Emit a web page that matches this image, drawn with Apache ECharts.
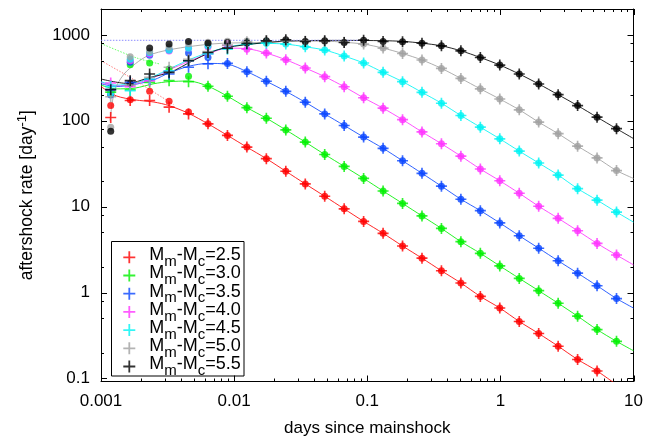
<!DOCTYPE html>
<html>
<head>
<meta charset="utf-8">
<script src="https://cdn.jsdelivr.net/npm/echarts@6/dist/echarts.min.js"></script>
<style>
html,body{margin:0;padding:0;background:#fff;}
#chart{width:647px;height:437px;}
</style>
</head>
<body>
<div id="chart"></div>
<script>
// Bin centres of the time histogram (days since mainshock)
const days = [0.001183, 0.001657, 0.002319, 0.003247, 0.004545, 0.006364, 0.008909, 0.01247, 0.01746,
  0.02445, 0.03423, 0.04792, 0.06708, 0.09392, 0.1315, 0.1841, 0.2577, 0.3608, 0.5051, 0.7071,
  0.9899, 1.386, 1.940, 2.716, 3.803, 5.324, 7.454];

// Magnitude ranges above completeness
const magDiffs = ['2.5', '3.0', '3.5', '4.0', '4.5', '5.0', '5.5'];

// Observed rates (filled circles), per day
const dots25 = [150, 175, 220, 169, 126, 92, 67.5, 49.3, 36.2, 25.8, 18.4, 13.2, 9.42, 6.73, 4.89, 3.48, 2.51, 1.79, 1.29, 0.90, 0.66, 0.46, 0.333, 0.237, 0.166, 0.122, null];
const dots30 = [205, 449, 470, 400, 329, 252, 193, 142, 107, 78.2, 56.4, 40.5, 29.4, 21.3, 15.2, 10.9, 7.79, 5.57, 3.91, 2.86, 2.04, 1.46, 1.05, 0.75, 0.53, 0.37, 0.27];
const dots35 = [200, 480, 580, 665, 613, 545, 465, 373, 288, 220, 164, 120, 88.1, 64.5, 47.7, 34.2, 24.4, 17.3, 12.2, 8.98, 6.46, 4.58, 3.28, 2.34, 1.68, 1.20, 0.85];
const dots40 = [215, 500, 600, 650, 700, 720, 751, 682, 613, 513, 411, 326, 249, 185, 140, 103, 74.1, 54.0, 38.7, 27.4, 20.0, 14.3, 10.1, 7.31, 5.24, 3.73, 2.73];
const dots45 = [210, 520, 620, 660, 700, 740, 780, 800, 800, 780, 726, 665, 566, 470, 366, 285, 214, 160, 115, 84.1, 61.6, 44.3, 32.2, 23.3, 16.2, 11.9, 8.64];
const dots50 = [84, 556, 640, 720, 790, 820, 840, 850, 850, 850, 845, 840, 820, 780, 701, 607, 510, 407, 311, 235, 179, 134, 96.4, 70.7, 50.6, 36.9, 26.3];
const dots55 = [75.6, 270, 701, 780, 836, 801, 814, 807, 852, 875, 836, 852, 814, 868, 836, 830, 801, 745, 652, 545, 445, 350, 268, 201, 150, 110, 80.8];

// Rates from the synthetic catalogues (crosses), per day
const cross25 = [109, 172, 172, 144, 120, 92, 67.5, 49.3, 36.2, 25.8, 18.4, 13.2, 9.42, 6.73, 4.89, 3.48, 2.51, 1.79, 1.29, 0.90, 0.66, 0.46, 0.333, 0.237, 0.166, 0.122, null];
const cross30 = [215, 230, 280, 293, 285, 252, 193, 142, 107, 78.2, 56.4, 40.5, 29.4, 21.3, 15.2, 10.9, 7.79, 5.57, 3.91, 2.86, 2.04, 1.46, 1.05, 0.75, 0.53, 0.37, 0.27];
const cross35 = [230, 280, 300, 350, 420, 460, 465, 373, 288, 220, 164, 120, 88.1, 64.5, 47.7, 34.2, 24.4, 17.3, 12.2, 8.98, 6.46, 4.58, 3.28, 2.34, 1.68, 1.20, 0.85];
const cross40 = [275, 250, 290, 380, 500, 600, 751, 682, 613, 513, 411, 326, 249, 185, 140, 103, 74.1, 54.0, 38.7, 27.4, 20.0, 14.3, 10.1, 7.31, 5.24, 3.73, 2.73];
const cross45 = [250, 224, 306, 380, 500, 600, 682, 780, 800, 780, 726, 665, 566, 470, 366, 285, 214, 160, 115, 84.1, 61.6, 44.3, 32.2, 23.3, 16.2, 11.9, 8.64];
const cross50 = [190, 260, 320, 420, 520, 640, 760, 830, 850, 850, 845, 840, 820, 780, 701, 607, 510, 407, 311, 235, 179, 134, 96.4, 70.7, 50.6, 36.9, 26.3];
const cross55 = [230, 293, 350, 366, 500, 623, 700, 790, 852, 875, 836, 852, 814, 868, 836, 830, 801, 745, 652, 545, 445, 350, 268, 201, 150, 110, 80.8];

// Fitted model curves: [days, rate]
const fit25 = [[0.001, 250], [0.0013, 195], [0.0018, 175], [0.0025, 165], [0.003247, 150], [0.004545, 122], [0.006364, 92], [0.008909, 67.5], [0.01247, 49.3], [0.01746, 36.2], [0.02445, 25.8], [0.03423, 18.4], [0.04792, 13.2], [0.06708, 9.42], [0.09392, 6.73], [0.1315, 4.89], [0.1841, 3.48], [0.2577, 2.51], [0.3608, 1.79], [0.5051, 1.29], [0.7071, 0.90], [0.9899, 0.66], [1.386, 0.46], [1.940, 0.333], [2.716, 0.237], [3.803, 0.166], [5.324, 0.122], [8, 0.078]];
const fit30 = [[0.001, 260], [0.0013, 235], [0.0018, 240], [0.0025, 270], [0.003247, 285], [0.004545, 290], [0.006364, 252], [0.008909, 193], [0.01247, 142], [0.01746, 107], [0.02445, 78.2], [0.03423, 56.4], [0.04792, 40.5], [0.06708, 29.4], [0.09392, 21.3], [0.1315, 15.2], [0.1841, 10.9], [0.2577, 7.79], [0.3608, 5.57], [0.5051, 3.91], [0.7071, 2.86], [0.9899, 2.04], [1.386, 1.46], [1.940, 1.05], [2.716, 0.75], [3.803, 0.53], [5.324, 0.37], [7.454, 0.27], [10, 0.21]];
const fit35 = [[0.001, 270], [0.0013, 250], [0.0018, 265], [0.0025, 300], [0.003247, 360], [0.004545, 430], [0.006364, 465], [0.008909, 455], [0.01247, 373], [0.01746, 288], [0.02445, 220], [0.03423, 164], [0.04792, 120], [0.06708, 88.1], [0.09392, 64.5], [0.1315, 47.7], [0.1841, 34.2], [0.2577, 24.4], [0.3608, 17.3], [0.5051, 12.2], [0.7071, 8.98], [0.9899, 6.46], [1.386, 4.58], [1.940, 3.28], [2.716, 2.34], [3.803, 1.68], [5.324, 1.20], [7.454, 0.85], [10, 0.66]];
const fit40 = [[0.001, 280], [0.0013, 255], [0.0018, 270], [0.0025, 320], [0.003247, 390], [0.004545, 490], [0.006364, 600], [0.008909, 700], [0.01247, 690], [0.01746, 613], [0.02445, 513], [0.03423, 411], [0.04792, 326], [0.06708, 249], [0.09392, 185], [0.1315, 140], [0.1841, 103], [0.2577, 74.1], [0.3608, 54.0], [0.5051, 38.7], [0.7071, 27.4], [0.9899, 20.0], [1.386, 14.3], [1.940, 10.1], [2.716, 7.31], [3.803, 5.24], [5.324, 3.73], [7.454, 2.73], [10, 2.1]];
const fit45 = [[0.001, 285], [0.0013, 260], [0.0018, 275], [0.0025, 330], [0.003247, 400], [0.004545, 510], [0.006364, 620], [0.008909, 720], [0.01247, 780], [0.01746, 795], [0.02445, 780], [0.03423, 726], [0.04792, 665], [0.06708, 566], [0.09392, 470], [0.1315, 366], [0.1841, 285], [0.2577, 214], [0.3608, 160], [0.5051, 115], [0.7071, 84.1], [0.9899, 61.6], [1.386, 44.3], [1.940, 32.2], [2.716, 23.3], [3.803, 16.2], [5.324, 11.9], [7.454, 8.64], [10, 6.6]];
const fit50 = [[0.00117, 100], [0.00122, 170], [0.0013, 250], [0.00157, 382], [0.00241, 597], [0.0066, 780], [0.0157, 814], [0.03, 845], [0.04792, 845], [0.06708, 820], [0.09392, 780], [0.1315, 701], [0.1841, 607], [0.2577, 510], [0.3608, 407], [0.5051, 311], [0.7071, 235], [0.9899, 179], [1.386, 134], [1.940, 96.4], [2.716, 70.7], [3.803, 50.6], [5.324, 36.9], [7.454, 26.3], [10, 21.3]];
const fit55 = [[0.001, 306], [0.00157, 272], [0.00234, 320], [0.0033, 366], [0.0049, 500], [0.0066, 623], [0.0088, 713], [0.0157, 801], [0.0245, 845], [0.0342, 858], [0.0671, 862], [0.1315, 855], [0.1841, 840], [0.2577, 800], [0.3608, 745], [0.5051, 652], [0.7071, 545], [0.9899, 445], [1.386, 350], [1.940, 268], [2.716, 201], [3.803, 150], [5.324, 110], [7.454, 80.8], [10, 62]];

// Early-time continuations of the undisturbed model (dotted)
const limit = [[0.001, 864], [0.1, 864]];
const early30 = [[0.001, 793], [0.00186, 537], [0.00278, 457]];
const early25 = [[0.001, 500], [0.0016, 330], [0.0025, 215], [0.0035, 155]];

// Axis ticks: labelled decades, minor marks at 2-9 (days) and 2, 5, 8 (rate)
const xMajor = [0.001, 0.01, 0.1, 1, 10];
const yMajor = [0.1, 1, 10, 100, 1000];
const xMinorSteps = [2, 3, 4, 5, 6, 7, 8, 9];
const yMinorSteps = [2, 5, 8];

const palette = ['#ff0000', '#00f000', '#0a46ff', '#ff33ff', '#00f4f4', '#a0a0a0', '#000000'];
const dotSets = [dots25, dots30, dots35, dots40, dots45, dots50, dots55];
const crossSets = [cross25, cross30, cross35, cross40, cross45, cross50, cross55];
const fitSets = [fit25, fit30, fit35, fit40, fit45, fit50, fit55];

const crossPath = 'path://M0,8.5H20V11.5H0Z M8.5,0H11.5V20H8.5Z';

function pairs(values) {
  return days.map((t, i) => [t, values[i]]).filter(p => p[1] != null);
}

function minorTicks(decades, steps) {
  const out = [];
  decades.forEach(d => steps.forEach(m => out.push(+(m * d).toPrecision(3))));
  return out;
}
const xMinor = minorTicks(xMajor.slice(0, -1), xMinorSteps);
const yMinor = minorTicks(yMajor, yMinorSteps).filter(v => v < 2000);

const tickData = xMajor.map(v => ['x', v, 6]).concat(xMinor.map(v => ['x', v, 3]))
  .concat(yMajor.map(v => ['y', v, 6])).concat(yMinor.map(v => ['y', v, 3]));

const series = [];

// fitted curves first, so markers sit on top
fitSets.forEach((fit, i) => {
  series.push({
    name: 'fit ' + magDiffs[i], type: 'line', data: fit, smooth: 0.3,
    showSymbol: false, symbol: 'none', silent: true, z: 2,
    lineStyle: { color: palette[i], width: 1, opacity: 0.85 }
  });
});
[[limit, '#8c8cff'], [early30, '#66ff66'], [early25, '#ff8080']].forEach(([d, c], j) => {
  series.push({
    name: 'early ' + j, type: 'line', data: d, smooth: 0.3, symbol: 'none', silent: true, z: 2,
    lineStyle: { color: c, width: 1, type: [1.5, 1.5] }
  });
});
dotSets.forEach((vals, i) => {
  series.push({
    name: 'binned ' + magDiffs[i], type: 'scatter', data: pairs(vals), z: 3,
    symbol: 'circle', symbolSize: 7, itemStyle: { color: palette[i] }
  });
});
crossSets.forEach((vals, i) => {
  series.push({
    name: magDiffs[i], type: 'scatter', data: pairs(vals), z: 4,
    symbol: crossPath, symbolSize: 11, itemStyle: { color: palette[i] }
  });
});

// tick marks on all four sides, major and minor
series.push({
  name: 'ticks', type: 'custom', silent: true, z: 10, clip: false,
  data: tickData.map(d => (d[0] === 'x' ? [d[1], 1] : [1, d[1]])),
  renderItem: function (params, api) {
    const cs = params.coordSys;
    const item = tickData[params.dataIndex];
    const style = { stroke: '#000', lineWidth: 1 };
    if (item[0] === 'x') {
      const x = Math.round(api.coord([item[1], 1])[0]) + 0.5;
      return { type: 'group', children: [
        { type: 'line', shape: { x1: x, y1: cs.y + cs.height, x2: x, y2: cs.y + cs.height - item[2] }, style },
        { type: 'line', shape: { x1: x, y1: cs.y, x2: x, y2: cs.y + item[2] }, style }
      ] };
    }
    const y = Math.round(api.coord([1, item[1]])[1]) + 0.5;
    return { type: 'group', children: [
      { type: 'line', shape: { x1: cs.x, y1: y, x2: cs.x + item[2], y2: y }, style },
      { type: 'line', shape: { x1: cs.x + cs.width, y1: y, x2: cs.x + cs.width - item[2], y2: y }, style }
    ] };
  }
});

const fontFamily = '"Liberation Sans", Arial, sans-serif';
const fmt = v => String(+v.toPrecision(6));

// key entries: M_m-M_c with lowered subscripts
const legendRich = {
  a: { fontSize: 18, fontFamily, color: '#000', lineHeight: 18, verticalAlign: 'top', padding: [1, 0, 0, 0] },
  p: { fontSize: 18, fontFamily, color: '#000', lineHeight: 18, verticalAlign: 'top', padding: [1, 0, 0, 9] },
  s: { fontSize: 15, fontFamily, color: '#000', lineHeight: 24, verticalAlign: 'bottom' }
};

const option = {
  animation: false,
  backgroundColor: '#fff',
  grid: { left: 101, right: 13.5, top: 9, bottom: 55.5, containLabel: false, outerBoundsMode: 'none' },
  // frame of the key
  graphic: [{
    type: 'rect', z: 5, silent: true,
    shape: { x: 111.5, y: 241.5, width: 132.5, height: 134.5 },
    style: { fill: '#fff', stroke: '#000', lineWidth: 1 }
  }],
  xAxis: [
    {
      type: 'log', min: 0.001, max: 10, logBase: 10, position: 'bottom',
      name: 'days since mainshock', nameLocation: 'middle', nameGap: 38,
      nameTextStyle: { fontSize: 17, fontFamily, color: '#000' },
      axisLine: { show: true, lineStyle: { color: '#000', width: 1 } },
      axisTick: { show: false }, splitLine: { show: false }, minorTick: { show: false },
      axisLabel: { fontSize: 17, fontFamily, color: '#000', margin: 11, formatter: fmt }
    },
    {
      type: 'log', min: 0.001, max: 10, logBase: 10, position: 'top',
      axisLine: { show: true, lineStyle: { color: '#000', width: 1 } },
      axisTick: { show: false }, axisLabel: { show: false }, splitLine: { show: false }
    }
  ],
  yAxis: [
    {
      type: 'log', min: 0.092, max: 2000, logBase: 10, position: 'left',
      name: '{a|aftershock rate [day}{u|-1}{a|]}', nameLocation: 'middle', nameGap: 65,
      nameTextStyle: {
        color: '#000',
        rich: {
          a: { fontSize: 17.5, fontFamily, color: '#000', lineHeight: 20, verticalAlign: 'bottom' },
          u: { fontSize: 13, fontFamily, color: '#000', lineHeight: 13, verticalAlign: 'top' }
        }
      },
      axisLine: { show: true, lineStyle: { color: '#000', width: 1 } },
      axisTick: { show: false }, splitLine: { show: false }, minorTick: { show: false },
      axisLabel: { fontSize: 17, fontFamily, color: '#000', margin: 11, formatter: fmt,
        showMinLabel: false, showMaxLabel: false }
    },
    {
      type: 'log', min: 0.092, max: 2000, logBase: 10, position: 'right',
      axisLine: { show: true, lineStyle: { color: '#000', width: 1 } },
      axisTick: { show: false }, axisLabel: { show: false }, splitLine: { show: false }
    }
  ],
  legend: {
    orient: 'vertical', left: 112, top: 245.3, z: 6,
    padding: [0, 5, 0, 11.3], itemGap: -5.8, itemWidth: 12, itemHeight: 24,
    symbolKeepAspect: true,
    selectedMode: false,
    data: magDiffs.map(n => ({ name: n, icon: crossPath })),
    formatter: n => '{p|M}{s|m}{a|-M}{s|c}{a|=' + n + '}',
    textStyle: { rich: legendRich }
  },
  series
};

const chart = echarts.init(document.getElementById('chart'), null, { renderer: 'canvas' });
chart.setOption(option);
</script>
</body>
</html>
